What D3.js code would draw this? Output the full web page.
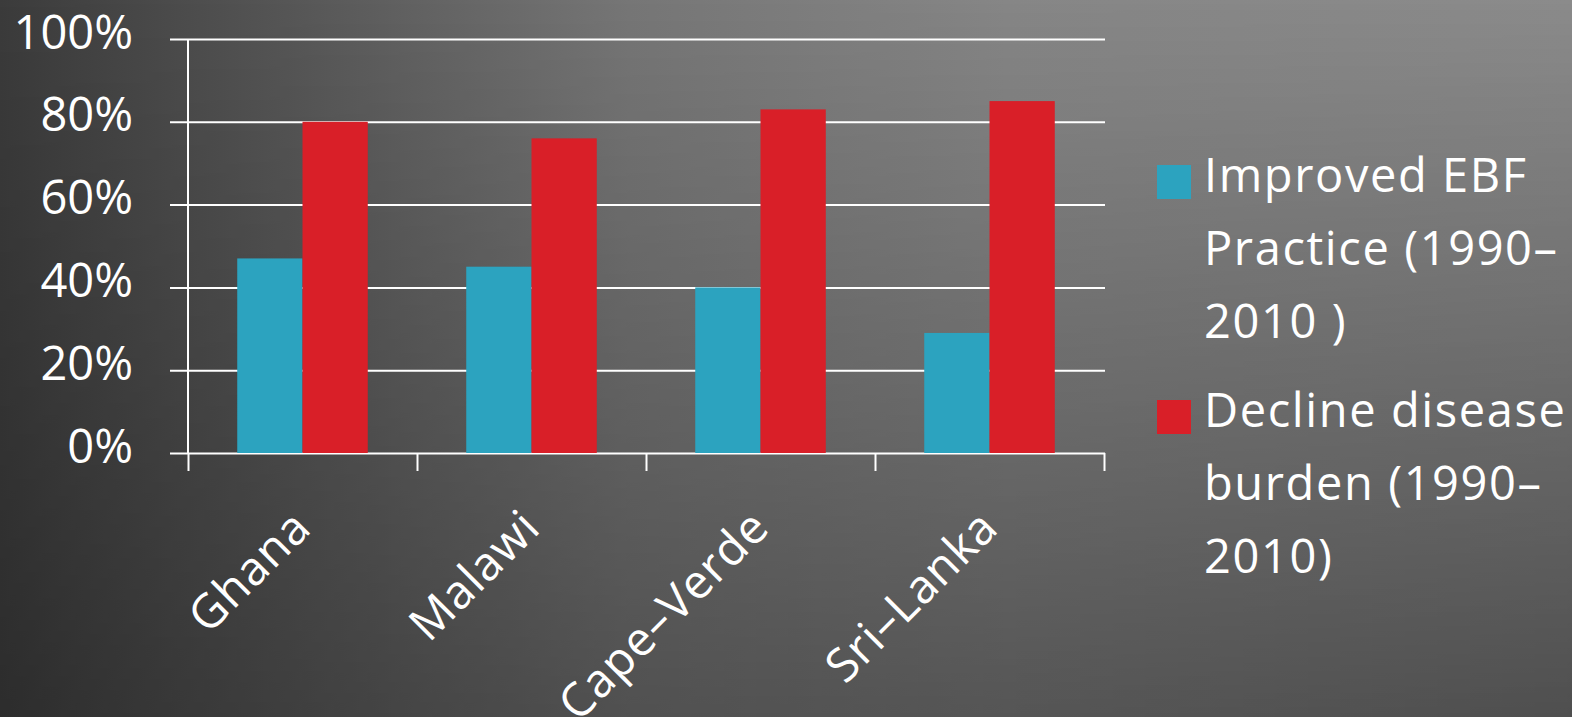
<!DOCTYPE html>
<html>
<head>
<meta charset="utf-8">
<script src="https://cdnjs.cloudflare.com/ajax/libs/d3/7.8.5/d3.min.js"></script>
<style>
  html, body { margin: 0; padding: 0; overflow: hidden; background: #444; }
  svg { display: block; }
  text { font-family: "Open Sans", "Noto Sans", sans-serif; fill: #ffffff; }
</style>
</head>
<body>
<svg id="chart" width="1572" height="717"></svg>
<script>
// Data
const categories = ["Ghana", "Malawi", "Cape–Verde", "Sri–Lanka"];
const seriesKeys = ["ebf", "disease"];
const seriesColors = ["#2ca3bf", "#d91f28"];
const ebfValues = [0.47, 0.45, 0.40, 0.29];
const diseaseValues = [0.80, 0.76, 0.83, 0.85];
const yTickValues = [0, 0.2, 0.4, 0.6, 0.8, 1.0];
const legendLines = [
  ["Improved EBF", "Practice (1990–", "2010 )"],
  ["Decline disease", "burden (1990–", "2010)"]
];

const W = 1572, H = 717;
const plot = { left: 188, right: 1104, top: 39, bottom: 453 };
const svg = d3.select("#chart");

// Background: horizontal shading darkened towards the bottom
const defs = svg.append("defs");
const hGrad = defs.append("linearGradient").attr("id", "bgH")
  .attr("x1", 0).attr("y1", 0).attr("x2", 1).attr("y2", 0);
[[0, "#3b3b3b"], [0.1, "#4a4a4a"], [0.4, "#767676"], [0.64, "#868686"], [1, "#8b8b8b"]]
  .forEach(([o, c]) => hGrad.append("stop").attr("offset", o).attr("stop-color", c));

const vGrad = defs.append("linearGradient").attr("id", "bgV")
  .attr("x1", 0).attr("y1", 0).attr("x2", 0).attr("y2", 1);
vGrad.append("stop").attr("offset", 0).attr("stop-color", "#000").attr("stop-opacity", 0);
vGrad.append("stop").attr("offset", 1).attr("stop-color", "#000").attr("stop-opacity", 1);

const mGrad = defs.append("linearGradient").attr("id", "bgM")
  .attr("x1", 0).attr("y1", 0).attr("x2", 1).attr("y2", 0);
mGrad.append("stop").attr("offset", 0).attr("stop-color", "#fff").attr("stop-opacity", 0.24);
mGrad.append("stop").attr("offset", 1).attr("stop-color", "#fff").attr("stop-opacity", 0.43);
defs.append("mask").attr("id", "bgMask")
  .attr("maskUnits", "userSpaceOnUse").attr("x", 0).attr("y", 0).attr("width", W).attr("height", H)
  .append("rect").attr("width", W).attr("height", H).attr("fill", "url(#bgM)");

svg.append("rect").attr("width", W).attr("height", H).attr("fill", "url(#bgH)");
svg.append("rect").attr("width", W).attr("height", H).attr("fill", "url(#bgV)").attr("mask", "url(#bgMask)");

// Scales
const x0 = d3.scaleBand().domain(categories).range([plot.left, plot.right])
  .paddingInner(0.43).paddingOuter(0.215);
const x1 = d3.scaleBand().domain(seriesKeys).range([0, x0.bandwidth()]);
const y = d3.scaleLinear().domain([0, 1]).range([plot.bottom, plot.top]);
const xEdges = d3.scaleLinear().domain([0, categories.length]).range([plot.left, plot.right]);

// Y axis with gridlines
const gridRight = 1105;
svg.append("g")
  .attr("transform", `translate(${plot.left},0)`)
  .call(d3.axisLeft(y).tickValues(yTickValues).tickSize(18).tickPadding(37)
    .tickFormat(d3.format(".0%")))
  .call(g => g.select(".domain").remove())
  .call(g => g.selectAll(".tick line")
    .attr("x1", gridRight - plot.left).attr("stroke", "#fff").attr("stroke-width", 2))
  .call(g => g.selectAll(".tick text")
    .attr("dy", null).attr("y", 9)
    .attr("font-size", 47).attr("font-family", "\"Open Sans\", sans-serif").attr("fill", "#fff"));

// Vertical axis line
svg.append("line")
  .attr("x1", plot.left).attr("x2", plot.left)
  .attr("y1", y(1)).attr("y2", plot.bottom)
  .attr("stroke", "#fff").attr("stroke-width", 2);

// X axis tick marks at category boundaries
svg.append("g")
  .attr("transform", `translate(0,${plot.bottom})`)
  .call(d3.axisBottom(xEdges).tickValues(d3.range(categories.length + 1)).tickSize(18).tickFormat(""))
  .call(g => g.select(".domain").remove())
  .call(g => g.selectAll(".tick line").attr("stroke", "#fff").attr("stroke-width", 2));

// Bars
const rows = categories.map((c, i) => ({ category: c, ebf: ebfValues[i], disease: diseaseValues[i] }));
const groups = svg.append("g").selectAll("g").data(rows).join("g")
  .attr("transform", d => `translate(${x0(d.category)},0)`);
groups.selectAll("rect")
  .data(d => seriesKeys.map((k, j) => ({ key: k, value: d[k], color: seriesColors[j] })))
  .join("rect")
  .attr("x", d => x1(d.key))
  .attr("width", x1.bandwidth())
  .attr("y", d => y(d.value))
  .attr("height", d => plot.bottom - y(d.value))
  .attr("fill", d => d.color);

// Rotated category labels
svg.append("g").selectAll("text").data(categories).join("text")
  .attr("transform", d => `translate(${x0(d) + x0.bandwidth() / 2 + 11},530) rotate(-45)`)
  .attr("text-anchor", "end")
  .attr("font-size", 47)
  .attr("letter-spacing", 1)
  .text(d => d);

// Legend
const legend = svg.append("g").attr("transform", "translate(1157,0)");
const legendTop = [165, 400];
legendLines.forEach((lines, i) => {
  const g = legend.append("g").attr("transform", `translate(0,${legendTop[i]})`);
  g.append("rect").attr("width", 34).attr("height", 34).attr("fill", seriesColors[i]);
  g.selectAll("text").data(lines).join("text")
    .attr("x", 47)
    .attr("y", (d, k) => 27 + k * 73)
    .attr("font-size", 47)
    .attr("letter-spacing", 1.6)
    .text(d => d);
});
</script>
</body>
</html>
